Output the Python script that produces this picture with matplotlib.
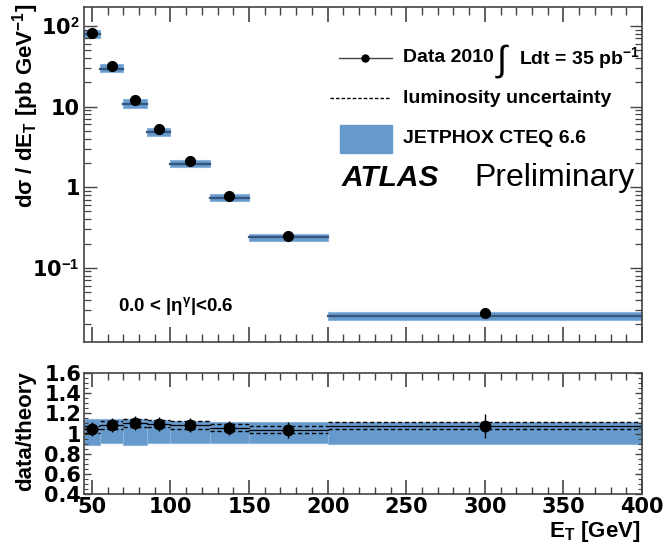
import numpy as np
import matplotlib
matplotlib.use("Agg")
import matplotlib.pyplot as plt
from matplotlib.ticker import FixedLocator, MultipleLocator, LogLocator, NullFormatter

plt.rcParams['font.family'] = ['Liberation Sans', 'DejaVu Sans']
plt.rcParams['font.weight'] = 'bold'
plt.rcParams['mathtext.fontset'] = 'custom'
plt.rcParams['mathtext.rm'] = 'Liberation Sans:bold'
plt.rcParams['mathtext.bf'] = 'Liberation Sans:bold'
plt.rcParams['mathtext.it'] = 'Liberation Sans:bold'
plt.rcParams['mathtext.default'] = 'rm'

# E_T bins [GeV] and bin centres
bin_lo = [45, 55, 70, 85, 100, 125, 150, 200]
bin_hi = [55, 70, 85, 100, 125, 150, 200, 400]
et_centre = [50, 62.5, 77.5, 92.5, 112.5, 137.5, 175, 300]

# measured cross section [pb/GeV]
xsec_data = [82.6, 32.0, 12.0, 5.25, 2.1, 0.78, 0.248, 0.0274]

# data / theory ratio and its uncertainty
ratio = [1.043, 1.083, 1.103, 1.097, 1.083, 1.057, 1.037, 1.077]
ratio_err = [0.07, 0.07, 0.07, 0.07, 0.07, 0.07, 0.08, 0.12]

# JETPHOX relative uncertainty band
theo_lo = [0.887, 0.903, 0.887, 0.91, 0.91, 0.91, 0.903, 0.897]
theo_hi = [1.14, 1.14, 1.14, 1.13, 1.12, 1.11, 1.11, 1.11]

lumi_unc = 0.034

band_col = "#6699cc"
line_col = "#34567d"
tick_font = {'family': 'DejaVu Sans', 'weight': 'bold', 'size': 15}

fig = plt.figure(figsize=(6.66, 5.46), dpi=100)
ax = fig.add_axes([84/666, 1-342/546, 558/666, 335/546])
axr = fig.add_axes([84/666, 1-494/546, 558/666, 121/546])

theory = np.array(xsec_data) / np.array(ratio)

for i in range(len(bin_lo)):
    x = [bin_lo[i], bin_hi[i]]
    t = theory[i]
    ax.fill_between(x, t*theo_lo[i], t*theo_hi[i], color=band_col, edgecolor="#8db3dc", lw=0.8)
    ax.plot(x, [t, t], color=line_col, lw=1.6)
    axr.fill_between(x, theo_lo[i], theo_hi[i], color=band_col, edgecolor="#8db3dc", lw=0.8)
    axr.plot(x, [ratio[i]]*2, color="black", lw=0.9)
    axr.plot(x, [ratio[i]*(1+lumi_unc)]*2, color="black", lw=1.0, ls=(0, (3, 2)))
    axr.plot(x, [ratio[i]*(1-lumi_unc)]*2, color="black", lw=1.0, ls=(0, (3, 2)))

ax.plot(et_centre, xsec_data, 'o', color="black", ms=7, zorder=5)
axr.errorbar(et_centre, ratio, yerr=ratio_err, fmt='o', color="black", ms=7.5,
             elinewidth=1.0, capsize=0, zorder=5)

# top panel axes
ax.set_yscale("log")
ax.set_xlim(45, 400)
ax.set_ylim(0.012, 172)
ax.set_xticklabels([])
ax.yaxis.set_major_locator(FixedLocator([0.1, 1, 10, 100]))
ax.set_yticklabels([r"10$^{-1}$", "1", "10", r"10$^{2}$"], fontdict=tick_font)
ax.yaxis.set_minor_locator(LogLocator(base=10, subs=np.arange(2, 10)))
ax.yaxis.set_minor_formatter(NullFormatter())

for a in (ax, axr):
    a.xaxis.set_major_locator(MultipleLocator(50))
    a.xaxis.set_minor_locator(MultipleLocator(10))
    a.tick_params(which='both', direction='in', top=True, right=True, color="#444444")
    for s in a.spines.values():
        s.set_color("#444444")
        s.set_linewidth(1.2)

ax.tick_params(axis='x', which='major', length=11, width=1.2)
ax.tick_params(axis='x', which='minor', length=6, width=1.0)
ax.tick_params(axis='y', which='major', length=9, width=1.0, pad=3)
ax.tick_params(axis='y', which='minor', length=5, width=0.9)

axr.set_xlim(45, 400)
axr.set_ylim(0.4, 1.6)
axr.yaxis.set_minor_locator(MultipleLocator(0.05))
axr.set_yticks([0.4, 0.6, 0.8, 1.0, 1.2, 1.4, 1.6])
axr.set_yticklabels(["0.4", "0.6", "0.8", "1", "1.2", "1.4", "1.6"], fontdict=tick_font)
axr.set_xticks([50, 100, 150, 200, 250, 300, 350, 400])
axr.set_xticklabels(["50", "100", "150", "200", "250", "300", "350", "400"], fontdict=tick_font)
axr.tick_params(axis='x', which='major', length=10, width=1.2, pad=2)
axr.tick_params(axis='x', which='minor', length=5, width=1.0)
axr.tick_params(axis='y', which='major', length=5, width=1.0, pad=2)
axr.tick_params(axis='y', which='minor', length=3, width=0.8)

# axis titles
fig.text(26/666, 1-4/546, r"d$\sigma$ / dE$_{\mathrm{T}}$ [pb GeV$^{-1}$]", rotation=90,
         ha='center', va='top', fontsize=16)
fig.text(26/666, 1-431/546, "data/theory", rotation=90, ha='center', va='center', fontsize=16)
fig.text(640/666, 1-544/546, r"E$_{\mathrm{T}}$ [GeV]", ha='right', va='bottom', fontsize=16)

# legend drawn by hand
ax.plot([0.457, 0.552], [0.848, 0.848], color="#444444", lw=1.0, transform=ax.transAxes)
ax.plot([0.504], [0.848], 'o', color="black", ms=5, transform=ax.transAxes)
ax.text(0.572, 0.848, "Data 2010", transform=ax.transAxes,
        va='center', ha='left', fontsize=14)
ax.text(0.740, 0.838, "\u222b", transform=ax.transAxes, va='center', ha='left',
        fontsize=26, fontweight='normal')
ax.text(0.780, 0.848, r"Ldt = 35 pb$^{-1}$", transform=ax.transAxes,
        va='center', ha='left', fontsize=14)
ax.plot([0.441, 0.550], [0.728, 0.728], color="black", lw=1.0, ls=(0, (2.5, 1.5)),
        transform=ax.transAxes)
ax.text(0.572, 0.728, "luminosity uncertainty", transform=ax.transAxes,
        va='center', ha='left', fontsize=14)
ax.add_patch(plt.Rectangle((0.459, 0.564), 0.093, 0.084, color=band_col,
                           transform=ax.transAxes))
ax.text(0.572, 0.606, "JETPHOX CTEQ 6.6", transform=ax.transAxes,
        va='center', ha='left', fontsize=14)
ax.text(0.462, 0.490, "ATLAS", transform=ax.transAxes, va='center', ha='left',
        fontsize=21.5, fontweight='bold', fontstyle='italic')
ax.text(0.700, 0.490, "Preliminary", transform=ax.transAxes, va='center', ha='left',
        fontsize=23, fontweight='normal')
ax.text(0.061, 0.107, r"0.0 < |$\eta^{\gamma}$|<0.6", transform=ax.transAxes,
        va='center', ha='left', fontsize=13.5)

fig.savefig("out.png", dpi=100)
